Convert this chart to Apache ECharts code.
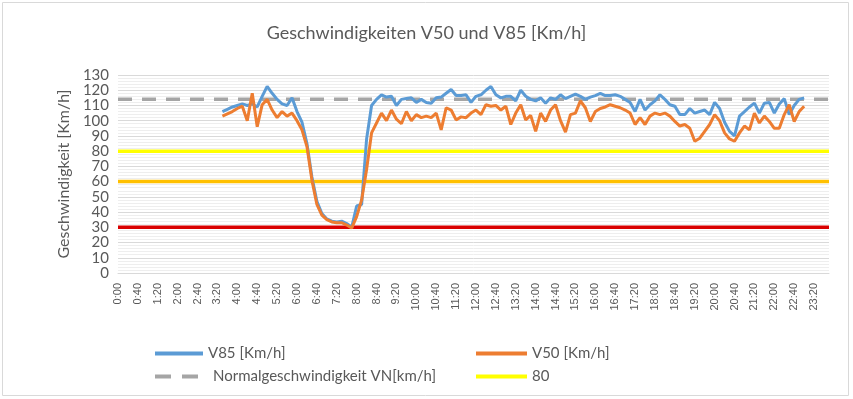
<!DOCTYPE html>
<html>
<head>
<meta charset="utf-8">
<script src="https://cdn.jsdelivr.net/npm/echarts@6/dist/echarts.min.js"></script>
<style>
  html, body { margin: 0; padding: 0; background: #fff; }
  #chart { width: 853px; height: 399px; }
</style>
</head>
<body>
<div id="chart"></div>
<script>
// 10-minute slots 0:00 .. 23:50
var categories = [];
for (var h = 0; h < 24; h++) {
  for (var m = 0; m < 60; m += 10) {
    categories.push(h + ':' + (m < 10 ? '0' + m : m));
  }
}

// measured values 3:30 .. 23:00
var firstSlot = 21;
var v85 = [
  106, 107.5, 109, 110, 111, 110, 111, 109, 116, 122.5,
  118, 114, 111, 110, 115, 106, 99, 85, 63, 47,
  39, 35.5, 34, 33.5, 34, 32.5, 30, 44, 45, 88,
  110, 114, 117, 115.5, 116, 110, 114, 114.5, 115, 112,
  114, 112, 111.5, 115, 115.5, 118, 120.5, 116.5, 116.5, 117,
  112, 116, 117, 120, 122.5, 117, 115, 116, 116, 113,
  120, 116, 114, 113, 115, 111.5, 115, 114, 117, 114.5,
  116, 117.5, 116, 114, 115.5, 116.5, 118, 116.5, 116.5, 117,
  116, 114, 112, 106, 114, 107, 110.5, 113, 117, 114,
  110.5, 109.5, 104, 104, 108, 105, 106, 107, 104, 112,
  108, 99, 93, 90, 103, 106, 109, 111.5, 105, 111.5,
  112, 105, 111, 114.5, 104, 110, 114, 115
];
var v50 = [
  103, 104.5, 106, 108, 109.5, 100, 118, 96, 110.5, 114,
  107, 102, 106, 103, 105, 100, 94, 83, 61, 45,
  38, 35, 33.5, 33, 33, 31.5, 29.5, 37, 48, 68,
  92, 98.5, 105, 100, 107, 101, 98, 106, 100, 104,
  102, 103, 102, 105, 94, 108.5, 107, 100.5, 102.5, 102,
  105, 107, 104, 110.5, 109.5, 110, 107, 109.5, 97.5, 105,
  110.5, 100.5, 103.5, 93, 105, 99.5, 107, 110.5, 100, 92.5,
  104, 105, 113, 108.5, 99.5, 106, 108, 109, 110.5, 109.5,
  108.5, 107, 105, 97.5, 102, 97.5, 103, 105, 104, 105,
  103, 99.5, 96.5, 97.5, 95, 86.5, 88.5, 93, 97.5, 104,
  100, 92, 88, 86.5, 92, 96.5, 94, 105, 98.5, 103,
  99.5, 95, 95, 104, 110.5, 99.5, 106, 109.5
];

// reference levels
var vn = 114;
var levels = [80, 60, 30];
var yTicks = { min: 0, max: 130, interval: 10 };

function padSeries(vals) {
  var out = [];
  for (var i = 0; i < categories.length; i++) {
    var k = i - firstSlot;
    out.push(k >= 0 && k < vals.length ? vals[k] : null);
  }
  return out;
}
function flat(v) {
  return categories.map(function () { return v; });
}

var textColor = '#595959';
var fontName = 'Lato, "Open Sans", sans-serif';

var chart = echarts.init(document.getElementById('chart'));

function legendAt(left, top, name, icon, w, pad) {
  return {
    left: left, top: top,
    data: [{ name: name, icon: icon }],
    itemWidth: w, itemHeight: 4, itemGap: 4,
    selectedMode: false,
    textStyle: { color: textColor, fontSize: 15, fontFamily: fontName, padding: [0, 0, 0, pad] }
  };
}

var dashIcon = 'path://M0,0h16v4h-16zM27,0h16v4h-16z';

chart.setOption({
  animation: false,
  title: {
    text: 'Geschwindigkeiten V50 und V85 [Km/h]',
    left: 'center', top: 19,
    textStyle: { color: textColor, fontSize: 18, fontWeight: 'normal', fontFamily: fontName }
  },
  legend: [
    legendAt(150, 341, 'V85 [Km/h]', 'rect', 48, 0),
    legendAt(471, 341, 'V50 [Km/h]', 'rect', 51, 0),
    legendAt(150, 364, 'Normalgeschwindigkeit VN[km/h]', dashIcon, 43, 10),
    legendAt(471, 364, '80', 'rect', 51, 0)
  ],
  graphic: [{
    type: 'rect',
    shape: { x: 2.5, y: 2.5, width: 846, height: 393 },
    style: { fill: 'none', stroke: '#D9D9D9', lineWidth: 1 },
    silent: true
  }],
  grid: { left: 118, right: 24, top: 75, bottom: 126 },
  xAxis: {
    type: 'category',
    data: categories,
    boundaryGap: false,
    axisLine: { lineStyle: { color: '#D9D9D9' } },
    axisTick: { show: false },
    axisLabel: {
      interval: 3, rotate: 90,
      color: textColor, fontSize: 11, fontFamily: '"Liberation Sans", Arial, sans-serif',
      margin: 10
    },
    splitLine: { show: false }
  },
  yAxis: {
    type: 'value',
    min: yTicks.min, max: yTicks.max, interval: yTicks.interval,
    name: 'Geschwindigkeit [Km/h]',
    nameLocation: 'middle',
    nameGap: 46,
    nameTextStyle: { color: textColor, fontSize: 16, fontFamily: fontName },
    axisLine: { show: false },
    axisTick: { show: false },
    axisLabel: { color: textColor, fontSize: 15, fontFamily: fontName, margin: 9 },
    splitLine: { lineStyle: { color: '#D9D9D9' } },
    minorTick: { show: false, splitNumber: 5 },
    minorSplitLine: { show: true, lineStyle: { color: '#EEEEEE' } }
  },
  series: [
    {
      name: 'Normalgeschwindigkeit VN[km/h]', type: 'line', data: flat(vn),
      symbol: 'none', z: 2,
      lineStyle: { color: '#A5A5A5', width: 3.5, type: [14, 10] },
      itemStyle: { color: '#A5A5A5' }
    },
    {
      name: '80', type: 'line', data: flat(levels[0]), symbol: 'none', z: 2,
      lineStyle: { color: '#FFFF00', width: 3.5 }, itemStyle: { color: '#FFFF00' }
    },
    {
      name: '60', type: 'line', data: flat(levels[1]), symbol: 'none', z: 2,
      lineStyle: { color: '#FFC000', width: 3.5 }, itemStyle: { color: '#FFC000' }
    },
    {
      name: '30', type: 'line', data: flat(levels[2]), symbol: 'none', z: 2,
      lineStyle: { color: '#D90000', width: 3.5 }, itemStyle: { color: '#D90000' }
    },
    {
      name: 'V85 [Km/h]', type: 'line', data: padSeries(v85), symbol: 'none', z: 3,
      lineStyle: { color: '#5B9BD5', width: 3 }, itemStyle: { color: '#5B9BD5' }
    },
    {
      name: 'V50 [Km/h]', type: 'line', data: padSeries(v50), symbol: 'none', z: 4,
      lineStyle: { color: '#ED7D31', width: 3 }, itemStyle: { color: '#ED7D31' }
    }
  ]
});
</script>
</body>
</html>
